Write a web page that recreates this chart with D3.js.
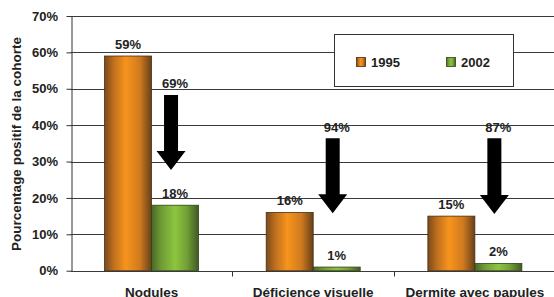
<!DOCTYPE html>
<html>
<head>
<meta charset="utf-8">
<script src="https://cdn.jsdelivr.net/npm/d3@7"></script>
<style>
  body { margin: 0; background: #fff; }
  text { font-family: "Liberation Sans", Arial, sans-serif; font-weight: bold; fill: #222; }
</style>
</head>
<body>
<div id="chart"></div>
<script>
// données
const categories = ['Nodules', 'Déficience visuelle', 'Dermite avec papules'];
const years = ['1995', '2002'];
const values1995 = [59, 16, 15];
const values2002 = [18, 1, 2];
const reductions = ['69%', '94%', '87%'];
const arrowTop = [48.3, 36.4, 36.4];
const arrowTip = [27.7, 15.8, 15.6];
const yTicks = [0, 10, 20, 30, 40, 50, 60, 70];

const config = { width: 554, height: 297, left: 70.7, right: 555.7, top: 16, bottom: 270.7 };
const fontFamily = '"Liberation Sans", Arial, sans-serif';

const svg = d3.select('#chart').append('svg')
  .attr('width', config.width)
  .attr('height', config.height);

const defs = svg.append('defs');
function addGradient (id, stops) {
  const grad = defs.append('linearGradient').attr('id', id)
    .attr('x1', '0%').attr('x2', '100%').attr('y1', '0%').attr('y2', '0%');
  stops.forEach(s => grad.append('stop').attr('offset', s[0]).attr('stop-color', s[1]));
}
addGradient('g1995', [['0%', '#7a4a1c'], ['20%', '#c0701e'], ['45%', '#f7941d'], ['75%', '#d07a1e'], ['100%', '#66401a']]);
addGradient('g2002', [['0%', '#4a6628'], ['20%', '#6f9a35'], ['50%', '#8cc63f'], ['75%', '#739f36'], ['100%', '#405a24']]);

const yScale = d3.scaleLinear().domain([0, 70]).range([config.bottom, config.top]);
const xScale = d3.scaleBand().domain(categories).range([config.left, config.right]);
const groupWidth = 94;
const xSub = d3.scaleBand().domain(years)
  .range([(xScale.bandwidth() - groupWidth) / 2, (xScale.bandwidth() + groupWidth) / 2]);

const snap = v => Math.round(v) + 0.5;

// grille
svg.append('g').selectAll('line')
  .data(yTicks)
  .enter().append('line')
  .attr('x1', config.left).attr('x2', config.width)
  .attr('y1', d => snap(yScale(d))).attr('y2', d => snap(yScale(d)))
  .attr('stroke', '#3a3a3a').attr('stroke-width', 1);

// axe Y
const yAxis = svg.append('g')
  .attr('transform', `translate(${snap(config.left)},0)`)
  .call(d3.axisLeft(yScale).tickValues(yTicks).tickFormat(d => d + '%').tickSize(5).tickSizeOuter(0));
yAxis.select('.domain').attr('stroke', '#333');
yAxis.selectAll('.tick line').attr('stroke', '#333');
yAxis.selectAll('.tick text').attr('x', -13.5).attr('font-size', 13)
  .attr('font-family', fontFamily).attr('fill', '#222');

// axe X
const xAxis = svg.append('g')
  .attr('transform', `translate(0,${snap(config.bottom)})`)
  .call(d3.axisBottom(xScale).tickSize(0).tickSizeOuter(0));
xAxis.select('.domain').remove();
xAxis.selectAll('.tick text').attr('y', 16).attr('font-size', 13.5)
  .attr('font-family', fontFamily).attr('fill', '#222');
xAxis.selectAll('.sep')
  .data(categories.slice(1))
  .enter().append('line')
  .attr('x1', d => snap(xScale(d))).attr('x2', d => snap(xScale(d)))
  .attr('y1', 0).attr('y2', 5)
  .attr('stroke', '#333');

// barres
const rows = categories.map((c, i) => ({ cat: c, i, vals: [values1995[i], values2002[i]] }));
const groups = svg.append('g').selectAll('g')
  .data(rows)
  .enter().append('g')
  .attr('transform', d => `translate(${xScale(d.cat)},0)`);

groups.selectAll('rect')
  .data(d => d.vals.map((v, k) => ({ year: years[k], v })))
  .enter().append('rect')
  .attr('x', d => xSub(d.year))
  .attr('y', d => yScale(d.v))
  .attr('width', xSub.bandwidth())
  .attr('height', d => config.bottom - yScale(d.v))
  .attr('fill', d => `url(#g${d.year})`)
  .attr('stroke', d => d.year === '1995' ? '#4a2c10' : '#2f4418')
  .attr('stroke-width', 0.8);

groups.selectAll('.val')
  .data(d => d.vals.map((v, k) => ({ year: years[k], v })))
  .enter().append('text')
  .attr('x', d => xSub(d.year) + xSub.bandwidth() / 2)
  .attr('y', d => yScale(d.v) - 7.5)
  .attr('text-anchor', 'middle')
  .attr('font-size', 13)
  .text(d => d.v + '%');

// flèches de réduction
const shaftW = 14, headW = 29, headH = 19;
groups.each(function (d) {
  const g = d3.select(this);
  const cx = xSub('2002') + xSub.bandwidth() / 2 - 4;
  const yT = yScale(arrowTop[d.i]);
  const yB = yScale(arrowTip[d.i]);
  const yH = yB - headH;
  g.append('path')
    .attr('d', `M${cx - shaftW / 2},${yT} L${cx + shaftW / 2},${yT} L${cx + shaftW / 2},${yH} L${cx + headW / 2},${yH} L${cx},${yB} L${cx - headW / 2},${yH} L${cx - shaftW / 2},${yH} Z`)
    .attr('fill', '#000');
  g.append('text')
    .attr('x', xSub('2002') + xSub.bandwidth() / 2)
    .attr('y', yT - 6.5)
    .attr('text-anchor', 'middle')
    .attr('font-size', 13)
    .text(reductions[d.i]);
});

// titre axe Y
svg.append('text')
  .attr('transform', 'translate(21,144) rotate(-90)')
  .attr('text-anchor', 'middle')
  .attr('font-size', 13.5)
  .text('Pourcentage positif de la cohorte');

// légende
const legend = svg.append('g').attr('transform', 'translate(334.5,34.5)');
legend.append('rect')
  .attr('width', 179).attr('height', 52)
  .attr('fill', '#fff').attr('stroke', '#333').attr('stroke-width', 1);
const legendX = [22, 112];
legend.selectAll('.item')
  .data(years)
  .enter().append('g')
  .attr('transform', (d, k) => `translate(${legendX[k]},23)`)
  .each(function (d) {
    const it = d3.select(this);
    it.append('rect').attr('width', 9).attr('height', 9)
      .attr('fill', `url(#g${d})`)
      .attr('stroke', d === '1995' ? '#4a2c10' : '#2f4418').attr('stroke-width', 0.8);
    it.append('text').attr('x', 14.5).attr('y', 9).attr('font-size', 13).text(d);
  });
</script>
</body>
</html>
